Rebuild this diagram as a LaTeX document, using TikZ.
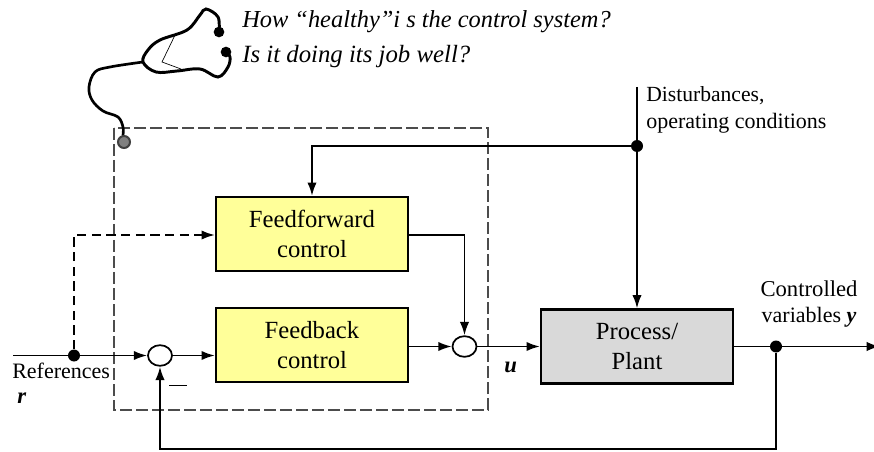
\documentclass[tikz,border=0pt]{standalone}
\usepackage{fontspec}
\setmainfont{Liberation Serif}
\usetikzlibrary{arrows.meta,shapes.geometric}
\definecolor{ctrlyellow}{RGB}{255,255,153}
\definecolor{plantgray}{RGB}{217,217,217}
\tikzset{
  block/.style={draw, line width=1.7pt, minimum width=144pt, minimum height=55.5pt, align=center, font=\fontsize{18.5}{22.5}\selectfont, inner sep=0pt},
  sumnode/.style={draw, line width=1.3pt, ellipse, fill=white, minimum width=18pt, minimum height=15.5pt, inner sep=0pt},
  dotnode/.style={circle, fill=black, minimum size=9pt, inner sep=0pt},
  sig/.style={line width=1.4pt, -{Latex[length=10pt,width=7pt]}},
  txt/.style={font=\fontsize{16.5}{20}\selectfont, align=left, inner sep=0pt, anchor=west},
}
\begin{document}
\begin{tikzpicture}[x=.75pt, y=-.75pt]
\useasboundingbox (0,0) rectangle (874,452);
% dashed controller frame
\draw[dashed, dash pattern=on 9pt off 3pt, line width=.8pt, black!70] (114,128) rectangle (488,410);
% blocks
\node[block, fill=ctrlyellow] (ff) at (312,234) {Feedforward\\control};
\node[block, fill=ctrlyellow] (fb) at (312,345) {Feedback\\control};
\node[block, fill=plantgray] (plant) at (637,346.5) {Process/\\Plant};
\node[sumnode] (sumr) at (160,355.5) {};
\node[sumnode] (sumu) at (464.5,346.5) {};
\node[dotnode] (jr) at (74,355.5) {};
\node[dotnode] (jd) at (637,146) {};
\node[dotnode] (jy) at (776,346.5) {};
\coordinate (rin) at (13,355.5);
\coordinate (dtop) at (637,87);
\coordinate (yout) at (880,346.5);
\coordinate (ffin) at (312,146);
\coordinate (ffout) at (464.5,235);
\coordinate (ffdash) at (74,235);
\coordinate (botr) at (776,449);
\coordinate (botl) at (160,449);
% signals
\draw[sig] (rin) -- (sumr);
\draw[sig] (sumr) -- (fb.west |- sumr);
\draw[sig] (fb.east |- sumu) -- (sumu);
\draw[sig] (sumu) -- (plant);
\draw[sig] (plant) -- (yout);
\draw[sig] (dtop) -- (plant);
\draw[sig] (jd) -- (ffin) -- (ff);
\draw[sig] (ff.east |- ffout) -- (ffout) -- (sumu);
\draw[sig, dashed, dash pattern=on 7pt off 4pt] (jr) -- (ffdash) -- (ff.west |- ffdash);
\draw[sig] (jy) -- (botr) -- (botl) -- (sumr);
\node (minus) at (178,385) {\rule{13pt}{.6pt}};
% labels
\node[txt] (qone) at (242,22) {\fontsize{18.3}{22}\selectfont\itshape How “healthy”i s the control system?};
\node[txt] (qtwo) at (242,57) {\fontsize{18.6}{22}\selectfont\itshape Is it doing its job well?};
\node[txt] (dist) at (646,110) {\fontsize{16.2}{19.5}\selectfont Disturbances,\\operating conditions};
\node[txt] (refs) at (12,371) {References};
\node[txt] (rlab) at (17,398) {\fontsize{17}{20}\selectfont\bfseries\itshape r};
\node[txt] (ulab) at (504,367) {\fontsize{17}{20}\selectfont\bfseries\itshape u};
\node[txt, anchor=center, align=center] (ylab) at (809,304) {\fontsize{17}{20}\selectfont Controlled\\variables \bfseries\itshape y};
% stethoscope
\draw[line width=2pt, line cap=round] plot[smooth, tension=.6] coordinates {(123,135) (123,127) (118,117) (103,111) (92,100) (89,87) (95,72) (110,67) (143,62)};
\draw[line width=2.2pt, line cap=round] plot[smooth, tension=.6] coordinates {(219,32) (218,17) (206,9) (200,15) (187,30) (160,40) (148,50) (143,62) (156,72) (177,71) (200,69) (218,77) (228,67) (230,57) (226,52)};
\draw[line width=.5pt] (176,33) -- (162,62) -- (181,69);
\node[dotnode, minimum size=8pt] (earl) at (219,32) {};
\node[dotnode, minimum size=8pt] (earr) at (226,52) {};
\node[circle, draw=black!75, line width=1.5pt, fill=black!50, minimum size=9pt, inner sep=0pt] (chest) at (124,142) {};
\end{tikzpicture}
\end{document}
